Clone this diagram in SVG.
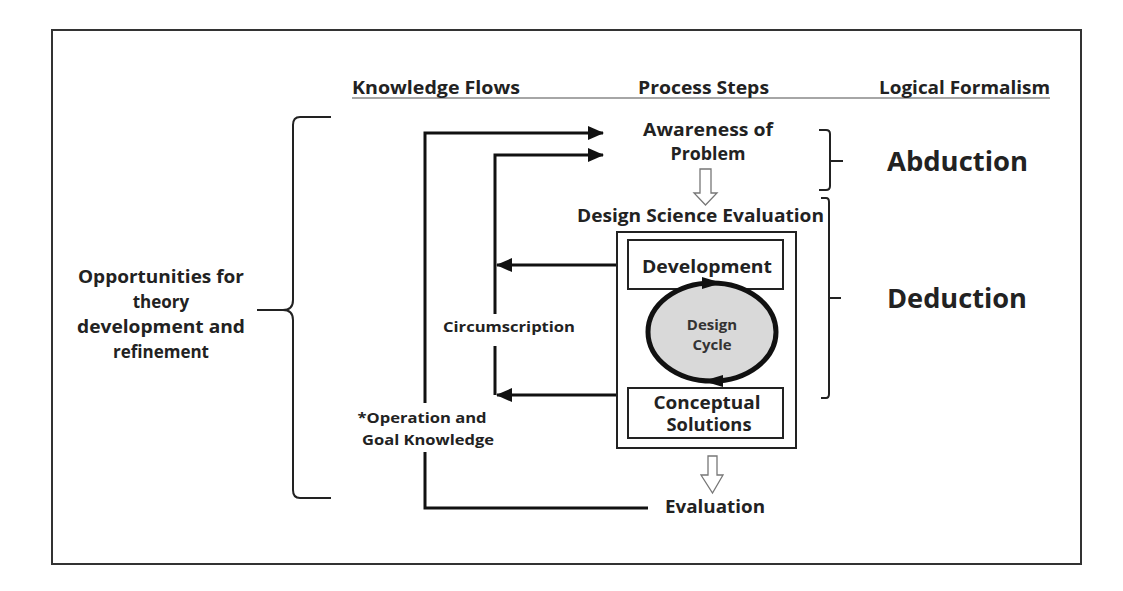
<svg xmlns="http://www.w3.org/2000/svg" width="1123" height="591" viewBox="0 0 1123 591">
<defs>
<marker id="ah" viewBox="0 0 16 14" refX="15" refY="7" markerWidth="16" markerHeight="14" markerUnits="userSpaceOnUse" orient="auto">
<path d="M0,0 L16,7 L0,14 Z" fill="#111"/>
</marker>
<style>
text{font-family:"Open Sans","Liberation Sans",sans-serif;font-weight:bold;fill:#222;}
.hd{font-size:17px;}
.t{font-size:17px;}
.sm{font-size:15px;}
.cy{font-size:15px;fill:#333;}
.big{font-size:26px;}
.ln{stroke:#111;stroke-width:3;fill:none;}
.br{stroke:#222;stroke-width:2;fill:none;}
.box{fill:#fff;stroke:#222;stroke-width:2;}
.hol{fill:#fff;stroke:#777;stroke-width:1.3;}
</style>
</defs>
<rect width="1123" height="591" fill="#fff"/>
<rect x="52" y="30" width="1029" height="534" fill="none" stroke="#333" stroke-width="2"/>

<g id="headers">
<line x1="352" y1="98" x2="1050" y2="98" stroke="#888" stroke-width="1.5"/>
<text class="hd" x="352" y="94" textLength="168" lengthAdjust="spacingAndGlyphs">Knowledge Flows</text>
<text class="hd" x="638" y="94" textLength="131" lengthAdjust="spacingAndGlyphs">Process Steps</text>
<text class="hd" x="879" y="94" textLength="171" lengthAdjust="spacingAndGlyphs">Logical Formalism</text>
</g>

<g id="connectors">
<polyline class="ln" points="425,403 425,133 603,133" marker-end="url(#ah)"/>
<polyline class="ln" points="425,452 425,508 648,508"/>
<polyline class="ln" points="495,314 495,155 603,155" marker-end="url(#ah)"/>
<line class="ln" x1="495" y1="346" x2="495" y2="395"/>
<line class="ln" x1="617" y1="265" x2="497" y2="265" marker-end="url(#ah)"/>
<line class="ln" x1="617" y1="395" x2="497" y2="395" marker-end="url(#ah)"/>
<path class="hol" d="M700,169 H711 V193 H717 L705.5,205 L694,193 H700 Z"/>
<path class="hol" d="M708,456 H717 V475 H723 L712.5,493 L701,475 H708 Z"/>
</g>

<g id="brace-left">
<path class="br" d="M331,117 H300 Q293,117 293,125 V300 Q293,310 283,310 H257 H283 Q293,310 293,320 V490 Q293,498 300,498 H331"/>
</g>
<g id="brace-abduction">
<path class="br" d="M819,130 H826 Q830,130 830,134 V186 Q830,190 826,190 H819 M830,161 H843"/>
</g>
<g id="brace-deduction">
<path class="br" d="M821,198 H826 Q829,198 829,202 V394 Q829,398 826,398 H821 M829,298 H841"/>
</g>

<g id="opportunities">
<text class="t" text-anchor="middle" x="161" y="283" textLength="166" lengthAdjust="spacingAndGlyphs">Opportunities for</text>
<text class="t" text-anchor="middle" x="161" y="308">theory</text>
<text class="t" text-anchor="middle" x="161" y="333" textLength="168" lengthAdjust="spacingAndGlyphs">development and</text>
<text class="t" text-anchor="middle" x="161" y="358">refinement</text>
</g>

<g id="awareness">
<text class="t" text-anchor="middle" x="708" y="136" textLength="130" lengthAdjust="spacingAndGlyphs">Awareness of</text>
<text class="t" text-anchor="middle" x="708" y="160" textLength="75" lengthAdjust="spacingAndGlyphs">Problem</text>
</g>

<g id="dse-label">
<text class="t" x="577" y="222" textLength="247" lengthAdjust="spacingAndGlyphs">Design Science Evaluation</text>
</g>

<g id="dse-box">
<rect class="box" x="617" y="232" width="179" height="216"/>
</g>

<g id="development">
<rect class="box" x="628" y="240" width="155" height="49"/>
<text class="t" text-anchor="middle" x="707" y="273" textLength="130" lengthAdjust="spacingAndGlyphs">Development</text>
</g>

<g id="design-cycle">
<ellipse cx="712" cy="332" rx="64" ry="49" fill="#d9d9d9" stroke="#111" stroke-width="5"/>
<path d="M702,277 L722,283 L702,289 Z" fill="#111"/>
<path d="M723,375 L703,381 L723,387 Z" fill="#111"/>
<text class="cy" text-anchor="middle" x="712" y="330">Design</text>
<text class="cy" text-anchor="middle" x="712" y="350">Cycle</text>
</g>

<g id="conceptual">
<rect class="box" x="628" y="388" width="155" height="50"/>
<text class="t" text-anchor="middle" x="707" y="409" textLength="107" lengthAdjust="spacingAndGlyphs">Conceptual</text>
<text class="t" text-anchor="middle" x="709" y="431" textLength="85" lengthAdjust="spacingAndGlyphs">Solutions</text>
</g>

<g id="evaluation">
<text class="t" x="665" y="513" textLength="100" lengthAdjust="spacingAndGlyphs">Evaluation</text>
</g>

<g id="circumscription">
<text class="sm" x="443" y="332" textLength="132" lengthAdjust="spacingAndGlyphs">Circumscription</text>
</g>

<g id="operation">
<text class="sm" text-anchor="middle" x="422" y="423" textLength="129" lengthAdjust="spacingAndGlyphs">*Operation and</text>
<text class="sm" text-anchor="middle" x="428" y="445" textLength="132" lengthAdjust="spacingAndGlyphs">Goal Knowledge</text>
</g>

<g id="abduction">
<text class="big" x="887" y="171" textLength="141" lengthAdjust="spacingAndGlyphs">Abduction</text>
</g>
<g id="deduction">
<text class="big" x="887" y="308" textLength="140" lengthAdjust="spacingAndGlyphs">Deduction</text>
</g>
</svg>
